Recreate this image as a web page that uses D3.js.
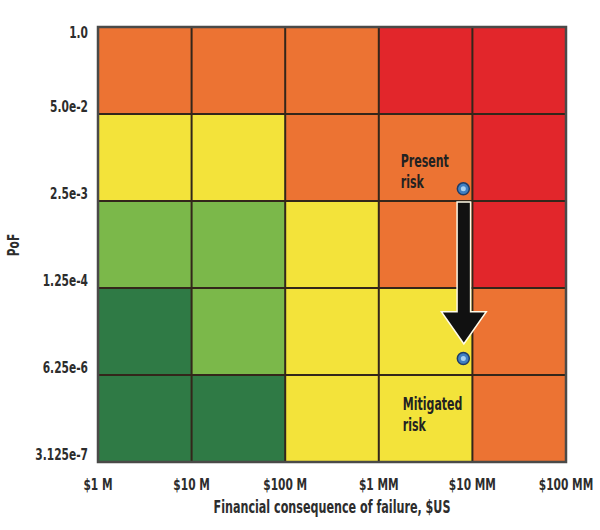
<!DOCTYPE html>
<html>
<head>
<meta charset="utf-8">
<script src="https://cdn.jsdelivr.net/npm/d3@7"></script>
<style>
  html, body { margin: 0; padding: 0; background: #fff; }
  text { font-family: "Liberation Sans Narrow", "DejaVu Sans Condensed", sans-serif; }
</style>
</head>
<body>
<div id="chart"></div>
<script>
// Data ////////////////////////////////////////////////////////////////////
const pofTicks   = [1.0, 5.0e-2, 2.5e-3, 1.25e-4, 6.25e-6, 3.125e-7];
const pofLabels  = ['1.0', '5.0e-2', '2.5e-3', '1.25e-4', '6.25e-6', '3.125e-7'];
const costTicks  = [1e6, 1e7, 1e8, 1e9, 1e10, 1e11];
const costLabels = ['$1 M', '$10 M', '$100 M', '$1 MM', '$10 MM', '$100 MM'];

// risk level per cell, rows from top (high PoF) to bottom, columns left to right
const riskMatrix = [
  ['high',   'high',   'high',   'severe', 'severe'],
  ['medium', 'medium', 'high',   'high',   'severe'],
  ['low',    'low',    'medium', 'high',   'severe'],
  ['min',    'low',    'medium', 'medium', 'high'],
  ['min',    'min',    'medium', 'medium', 'high']
];
const riskLevels = ['min', 'low', 'medium', 'high', 'severe'];
const riskColors = ['#2f7a45', '#7bb84a', '#f3e33a', '#ec7333', '#e2262b'];

const presentRisk   = { cost: 8e9, pof: 3.8e-3 };
const mitigatedRisk = { cost: 8e9, pof: 1.1e-5 };

// Setup ///////////////////////////////////////////////////////////////////
const width = 600, height = 530;
const svg = d3.select('#chart').append('svg')
  .attr('width', width).attr('height', height)
  .attr('viewBox', [0, 0, width, height]);

const x = d3.scaleLog().domain([1e6, 1e11]).range([98, 566]);
const y = d3.scaleLog().domain([3.125e-7, 1]).range([462, 27]);
const color = d3.scaleOrdinal().domain(riskLevels).range(riskColors);

const cells = svg.append('g').attr('id', 'cells');
const axes  = svg.append('g').attr('id', 'axes');
const marks = svg.append('g').attr('id', 'marks');

// the reference uses a tall condensed face: squeeze the text horizontally
const squeeze = (tx, ty, s, rot = 0) => `translate(${tx},${ty}) rotate(${rot}) scale(${s},1)`;

// Cells ///////////////////////////////////////////////////////////////////
const cellData = [];
riskMatrix.forEach((row, i) => row.forEach((lvl, j) => cellData.push({
  x0: costTicks[j], x1: costTicks[j + 1], y0: pofTicks[i], y1: pofTicks[i + 1], lvl
})));

cells.selectAll('rect')
  .data(cellData)
  .join('rect')
  .attr('x', d => x(d.x0))
  .attr('y', d => y(d.y0))
  .attr('width', d => x(d.x1) - x(d.x0))
  .attr('height', d => y(d.y1) - y(d.y0))
  .attr('fill', d => color(d.lvl));

// inner grid lines
cells.append('g').selectAll('line')
  .data(costTicks.slice(1, -1))
  .join('line')
  .attr('x1', d => x(d)).attr('x2', d => x(d))
  .attr('y1', y(1)).attr('y2', y(3.125e-7))
  .attr('stroke', '#33261a').attr('stroke-width', 2);

cells.append('g').selectAll('line')
  .data(pofTicks.slice(1, -1))
  .join('line')
  .attr('y1', d => y(d)).attr('y2', d => y(d))
  .attr('x1', x(1e6)).attr('x2', x(1e11))
  .attr('stroke', '#33261a').attr('stroke-width', 2);

cells.append('rect')
  .attr('x', x(1e6)).attr('y', y(1))
  .attr('width', x(1e11) - x(1e6)).attr('height', y(3.125e-7) - y(1))
  .attr('fill', 'none').attr('stroke', '#4a4a48').attr('stroke-width', 2.5);

// Axes ////////////////////////////////////////////////////////////////////
axes.append('g').selectAll('text')
  .data(pofTicks)
  .join('text')
  .attr('transform', (d, i) => squeeze(88, i === 0 ? y(d) + 11 : y(d) - 2, 0.74))
  .attr('text-anchor', 'end')
  .attr('font-size', 16).attr('font-weight', 'bold').attr('fill', '#2d2d2d')
  .text((d, i) => pofLabels[i]);

axes.append('g').selectAll('text')
  .data(costTicks)
  .join('text')
  .attr('transform', d => squeeze(x(d), 490, 0.74))
  .attr('text-anchor', 'middle')
  .attr('font-size', 16).attr('font-weight', 'bold').attr('fill', '#2d2d2d')
  .text((d, i) => costLabels[i]);

axes.append('text')
  .attr('transform', squeeze((x(1e6) + x(1e11)) / 2, 513, 0.73))
  .attr('text-anchor', 'middle')
  .attr('font-size', 17).attr('font-weight', 'bold').attr('fill', '#2d2d2d')
  .text('Financial consequence of failure, $US');

axes.append('text')
  .attr('transform', squeeze(19, 245, 0.74, -90))
  .attr('text-anchor', 'middle')
  .attr('font-size', 16).attr('font-weight', 'bold').attr('fill', '#2d2d2d')
  .text('PoF');

// Arrow and points ////////////////////////////////////////////////////////
const ax = x(presentRisk.cost) + 0.5;
const ay0 = y(presentRisk.pof) + 14;
const ay1 = y(mitigatedRisk.pof) - 16;
const headTop = ay1 - 30;
const arrow = [
  [ax - 6, ay0], [ax + 6, ay0], [ax + 6, headTop], [ax + 21, headTop],
  [ax, ay1], [ax - 21, headTop], [ax - 6, headTop]
];
marks.append('path')
  .attr('d', d3.line()(arrow) + 'Z')
  .attr('fill', '#111')
  .attr('stroke', '#fffbe8').attr('stroke-width', 3)
  .attr('stroke-linejoin', 'miter')
  .attr('paint-order', 'stroke');

const points = marks.selectAll('g.pt')
  .data([presentRisk, mitigatedRisk])
  .join('g').attr('class', 'pt')
  .attr('transform', d => `translate(${x(d.cost)},${y(d.pof)})`);
points.append('circle').attr('r', 6).attr('fill', '#3f7fc2').attr('stroke', '#1d3c68').attr('stroke-width', 1.5);
points.append('circle').attr('r', 2.5).attr('fill', '#a9d1f0');

// Labels
const labels = [
  { lines: ['Present', 'risk'], xPos: x(1e9) + 22, yPos: y(presentRisk.pof) - 22 },
  { lines: ['Mitigated', 'risk'], xPos: x(1e9) + 24, yPos: y(6.25e-6) + 35 }
];
labels.forEach(l => {
  marks.append('text')
    .attr('transform', squeeze(l.xPos, l.yPos, 0.68))
    .attr('font-size', 18).attr('font-weight', 'bold').attr('fill', '#222')
    .selectAll('tspan').data(l.lines).join('tspan')
    .attr('x', 0).attr('dy', (d, i) => i === 0 ? 0 : 21)
    .text(d => d);
});
</script>
</body>
</html>
